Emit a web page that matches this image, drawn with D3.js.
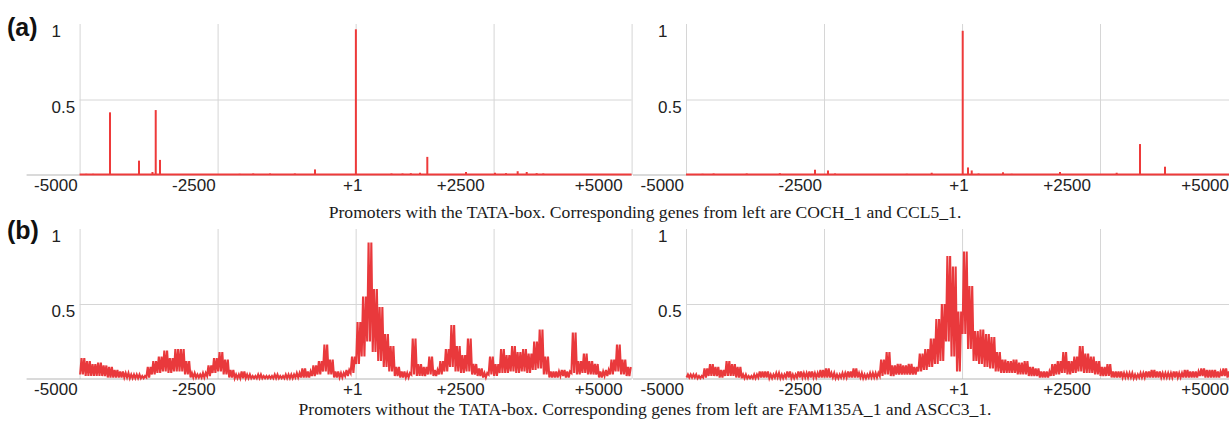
<!DOCTYPE html>
<html><head><meta charset="utf-8">
<script src="https://cdn.jsdelivr.net/npm/d3@7"></script>
<style>body{margin:0;background:#fff;} svg{display:block;}</style>
</head><body><svg id="c" width="1229" height="423"></svg>
<script>
// ---------- data ----------
const xTickValues = [-5000, -2500, 1, 2500, 5000];
const xTickLabels = ["-5000", "-2500", "+1", "+2500", "+5000"];
const yTickValues = [0.5, 1];
const yTickLabels = ["0.5", "1"];
const panelLabels = ["(a)", "(b)"];
const captions = [
  "Promoters with the TATA-box. Corresponding genes from left are COCH_1 and CCL5_1.",
  "Promoters without the TATA-box. Corresponding genes from left are FAM135A_1 and ASCC3_1."
];

// (a) left: COCH_1 spikes
const cochPos = [-4880, -4756, -4449, -4300, -3924, -3680, -3621, -3543, -3200, -2100, -1855, -1550, -1100, -736, 5, 200, 650, 850, 1000, 1167, 1299, 1500, 2000, 2200, 2525, 2725, 2936, 3100, 3280, 3400];
const cochVal = [0.008, 0.008, 0.415, 0.006, 0.095, 0.02, 0.43, 0.10, 0.006, 0.008, 0.01, 0.01, 0.01, 0.037, 0.965, 0.006, 0.01, 0.01, 0.012, 0.015, 0.12, 0.006, 0.02, 0.006, 0.015, 0.012, 0.025, 0.02, 0.012, 0.01];

// (a) right: CCL5_1 spikes
const ccl5Pos = [-4700, -4500, -3900, -3300, -2663, -2428, -2300, -1500, -1000, -549, 13, 109, 176, 300, 743, 900, 1350, 1775, 2100, 2802, 3225, 3678];
const ccl5Val = [0.008, 0.01, 0.01, 0.012, 0.035, 0.03, 0.01, 0.006, 0.008, 0.015, 0.955, 0.05, 0.03, 0.01, 0.018, 0.008, 0.006, 0.02, 0.006, 0.015, 0.205, 0.055];

// (b) 100-bp bins, max / min read per bin
const binStarts = d3.range(-5000, 5000, 100);
const fam135aHi = [
  0.14, 0.12, 0.10, 0.11, 0.09, 0.08, 0.06, 0.05, 0.04, 0.03,
  0.03, 0.02, 0.08, 0.12, 0.15, 0.19, 0.14, 0.20, 0.20, 0.12,
  0.04, 0.03, 0.04, 0.09, 0.14, 0.18, 0.13, 0.06, 0.03, 0.05,
  0.03, 0.02, 0.03, 0.02, 0.02, 0.03, 0.02, 0.03, 0.03, 0.04,
  0.07, 0.05, 0.09, 0.12, 0.23, 0.13, 0.05, 0.04, 0.06, 0.15,
  0.38, 0.55, 0.91, 0.60, 0.48, 0.30, 0.22, 0.08, 0.05, 0.04,
  0.27, 0.10, 0.08, 0.15, 0.06, 0.12, 0.20, 0.36, 0.22, 0.16,
  0.27, 0.10, 0.07, 0.04, 0.15, 0.10, 0.20, 0.16, 0.22, 0.18,
  0.20, 0.17, 0.25, 0.33, 0.15, 0.05, 0.05, 0.06, 0.05, 0.31,
  0.12, 0.17, 0.12, 0.10, 0.05, 0.06, 0.13, 0.23, 0.13, 0.08
];
const fam135aLo = [
  0.03, 0.02, 0.02, 0.02, 0.02, 0.01, 0.01, 0.01, 0.01, 0.005,
  0.005, 0.005, 0.01, 0.03, 0.04, 0.05, 0.04, 0.05, 0.05, 0.03,
  0.01, 0.01, 0.01, 0.02, 0.04, 0.05, 0.03, 0.01, 0.005, 0.005,
  0.005, 0.005, 0.005, 0.005, 0.005, 0.005, 0.005, 0.005, 0.005, 0.01,
  0.01, 0.01, 0.02, 0.03, 0.05, 0.03, 0.01, 0.01, 0.02, 0.04,
  0.10, 0.15, 0.25, 0.18, 0.12, 0.08, 0.05, 0.02, 0.01, 0.01,
  0.03, 0.02, 0.02, 0.03, 0.02, 0.03, 0.05, 0.08, 0.05, 0.04,
  0.05, 0.03, 0.02, 0.01, 0.03, 0.02, 0.04, 0.04, 0.05, 0.04,
  0.05, 0.04, 0.06, 0.07, 0.03, 0.01, 0.01, 0.02, 0.01, 0.04,
  0.03, 0.04, 0.03, 0.03, 0.01, 0.02, 0.03, 0.05, 0.03, 0.02
];
const ascc3Hi = [
  0.03, 0.03, 0.02, 0.07, 0.10, 0.08, 0.06, 0.12, 0.10, 0.08,
  0.03, 0.02, 0.03, 0.05, 0.05, 0.03, 0.04, 0.03, 0.05, 0.03,
  0.05, 0.04, 0.05, 0.04, 0.06, 0.07, 0.04, 0.03, 0.04, 0.05,
  0.07, 0.04, 0.03, 0.04, 0.04, 0.13, 0.18, 0.09, 0.10, 0.09,
  0.10, 0.08, 0.17, 0.20, 0.27, 0.40, 0.50, 0.82, 0.75, 0.45,
  0.85, 0.62, 0.32, 0.33, 0.30, 0.28, 0.18, 0.13, 0.12, 0.13,
  0.11, 0.12, 0.08, 0.07, 0.05, 0.05, 0.10, 0.12, 0.18, 0.12,
  0.15, 0.22, 0.17, 0.15, 0.12, 0.08, 0.10, 0.05, 0.05, 0.04,
  0.04, 0.03, 0.04, 0.05, 0.06, 0.05, 0.04, 0.04, 0.05, 0.04,
  0.06, 0.05, 0.05, 0.07, 0.06, 0.06, 0.05, 0.07, 0.05, 0.06
];
const ascc3Lo = [
  0.01, 0.01, 0.005, 0.01, 0.02, 0.02, 0.01, 0.02, 0.02, 0.01,
  0.005, 0.005, 0.005, 0.01, 0.01, 0.005, 0.01, 0.005, 0.01, 0.005,
  0.01, 0.01, 0.01, 0.01, 0.01, 0.01, 0.01, 0.005, 0.01, 0.01,
  0.01, 0.01, 0.005, 0.01, 0.01, 0.02, 0.03, 0.02, 0.03, 0.03,
  0.03, 0.03, 0.05, 0.06, 0.08, 0.10, 0.12, 0.25, 0.15, 0.05,
  0.30, 0.20, 0.12, 0.10, 0.08, 0.07, 0.05, 0.04, 0.04, 0.04,
  0.03, 0.03, 0.02, 0.02, 0.01, 0.01, 0.02, 0.03, 0.04, 0.03,
  0.04, 0.05, 0.04, 0.04, 0.03, 0.02, 0.02, 0.01, 0.01, 0.01,
  0.01, 0.005, 0.01, 0.01, 0.01, 0.01, 0.01, 0.01, 0.01, 0.01,
  0.01, 0.01, 0.01, 0.02, 0.01, 0.01, 0.01, 0.02, 0.01, 0.01
];

// ---------- drawing ----------
const RED = "#ee3a3a";
const RED_B = "#e9393c";
const svg = d3.select("#c");
const PW = 552;
const panels = [
  {left: 79.6, top: 24, bottom: 175, kind: "spike", pos: cochPos, val: cochVal},
  {left: 686, top: 24, bottom: 175, kind: "spike", pos: ccl5Pos, val: ccl5Val},
  {left: 79.6, top: 229, bottom: 379, kind: "band", hi: fam135aHi, lo: fam135aLo},
  {left: 686, top: 229, bottom: 379, kind: "band", hi: ascc3Hi, lo: ascc3Lo}
];
const labelFont = "'Liberation Sans', Arial, Helvetica, sans-serif";

panels.forEach(p => {
  const x = d3.scaleLinear().domain([-5000, 5000]).range([p.left, p.left + PW]);
  const y = d3.scaleLinear().domain([0, 1]).range([p.bottom, p.top]);
  const g = svg.append("g");

  // vertical grid
  const vg = g.append("g").attr("transform", `translate(0,${y(0)})`)
    .call(d3.axisBottom(x).tickValues(xTickValues).tickSize(-(y(0) - y(1))).tickFormat(""));
  vg.select(".domain").remove();
  vg.selectAll("line").attr("stroke", "#d6d6d6");

  // horizontal grid (0.5)
  const hg = g.append("g").attr("transform", `translate(${x(-5000)},0)`)
    .call(d3.axisLeft(y).tickValues(yTickValues.filter(v => v < 1)).tickSize(-PW).tickFormat(""));
  hg.select(".domain").remove();
  hg.selectAll("line").attr("stroke", "#d6d6d6");

  // baseline (extends left of plot)
  g.append("line").attr("x1", x(-5000) - 53).attr("x2", x(5000))
    .attr("y1", y(0)).attr("y2", y(0)).attr("stroke", "#b5b5b5").attr("stroke-width", 1);

  // x tick labels
  g.selectAll(".xl").data(xTickValues).enter().append("text")
    .attr("x", d => x(d))
    .attr("y", y(0) + 15.5)
    .attr("dx", (d, i) => xTickLabels[i].startsWith("-") ? -2 : (d === 1 ? -3 : -9))
    .attr("text-anchor", (d, i) => d === 1 ? "middle" : "end")
    .attr("font-family", labelFont).attr("font-size", 17).attr("fill", "#222")
    .text((d, i) => xTickLabels[i]);

  // y tick labels
  g.selectAll(".yl").data(yTickValues).enter().append("text")
    .attr("x", x(-5000) - 28)
    .attr("y", d => y(d) + 13)
    .attr("text-anchor", "start")
    .attr("font-family", labelFont).attr("font-size", 17).attr("fill", "#222")
    .text((d, i) => yTickLabels[i]);

  if (p.kind === "spike") {
    g.append("line").attr("x1", x(-5000)).attr("x2", x(5000))
      .attr("y1", y(0) - 0.5).attr("y2", y(0) - 0.5)
      .attr("stroke", RED).attr("stroke-width", 2);
    g.selectAll(".sp").data(p.pos).enter().append("line")
      .attr("x1", d => x(d)).attr("x2", d => x(d))
      .attr("y1", y(0)).attr("y2", (d, i) => y(p.val[i]))
      .attr("stroke", RED).attr("stroke-width", 2);
  } else {
    // each bin traced as min -> max -> min -> max
    const zig = [];
    binStarts.forEach((s, i) => {
      zig.push([s + 10, p.lo[i]]);
      zig.push([s + 35, p.hi[i]]);
      zig.push([s + 60, p.lo[i]]);
      zig.push([s + 85, p.hi[i]]);
    });
    g.append("path").datum(zig)
      .attr("d", d3.line().x(d => x(d[0])).y(d => y(d[1])))
      .attr("fill", "none").attr("stroke", RED_B).attr("stroke-width", 2.1)
      .attr("stroke-linejoin", "miter");
  }
});

// panel labels
svg.selectAll(".pl").data(panelLabels).enter().append("text")
  .attr("x", 7).attr("y", (d, i) => i === 0 ? 36 : 239)
  .attr("font-family", labelFont).attr("font-weight", "bold").attr("font-size", 25).attr("fill", "#111")
  .text(d => d);

// captions
svg.selectAll(".cap").data(captions).enter().append("text")
  .attr("x", 645).attr("y", (d, i) => i === 0 ? 218 : 415)
  .attr("text-anchor", "middle")
  .attr("font-family", "'Liberation Serif', 'Times New Roman', serif").attr("font-size", 17.6).attr("fill", "#1a1a1a")
  .text(d => d);
</script></body></html>
